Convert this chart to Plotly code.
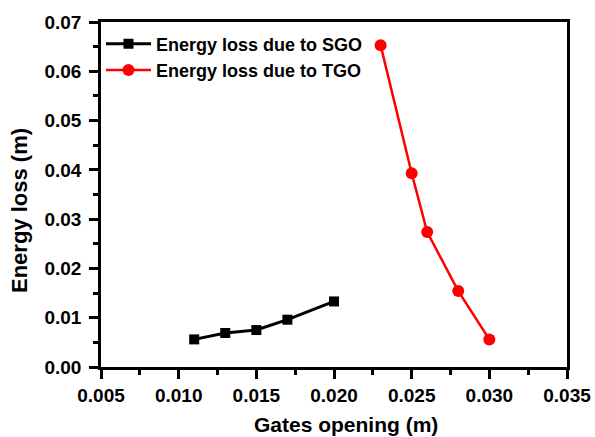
import plotly.graph_objects as go

gate_sgo = [0.011, 0.013, 0.015, 0.017, 0.020]
loss_sgo = [0.0056, 0.0069, 0.0075, 0.0096, 0.0133]
gate_tgo = [0.023, 0.025, 0.026, 0.028, 0.030]
loss_tgo = [0.0653, 0.0393, 0.0274, 0.0154, 0.0056]

x_title = "Gates opening (m)"
y_title = "Energy loss (m)"

font_family = "Liberation Sans, Arial, sans-serif"

fig = go.Figure()
fig.add_trace(go.Scatter(x=gate_sgo, y=loss_sgo, mode="lines+markers",
                         name="Energy loss due to SGO",
                         line=dict(color="black", width=3),
                         marker=dict(symbol="square", size=10, color="black")))
fig.add_trace(go.Scatter(x=gate_tgo, y=loss_tgo, mode="lines+markers",
                         name="Energy loss due to TGO",
                         line=dict(color="#ff0000", width=2.5),
                         marker=dict(symbol="circle", size=12, color="#ff0000")))

axis_common = dict(showline=True, linecolor="black", linewidth=2.5, mirror=True,
                   ticks="outside", ticklen=9, tickwidth=2.5, tickcolor="black",
                   showgrid=False, zeroline=False, automargin=False,
                   tickfont=dict(family=font_family, size=19, color="black", weight="bold"))

fig.update_xaxes(range=[0.005, 0.035], dtick=0.005, tickformat=".3f",
                 minor=dict(ticks="outside", ticklen=5, tickwidth=2.5, tickcolor="black", dtick=0.0025),
                 ticklabelstandoff=0,
                 **axis_common)
fig.update_yaxes(range=[0.0, 0.07], dtick=0.01, tickformat=".2f",
                 minor=dict(ticks="outside", ticklen=5, tickwidth=2.5, tickcolor="black", dtick=0.005),
                 ticklabelstandoff=4,
                 **axis_common)

title_font = dict(family=font_family, size=21, color="black", weight="bold")
fig.add_annotation(text=x_title, xref="paper", yref="paper", x=0.525, y=-0.168,
                   xanchor="center", yanchor="middle", showarrow=False, font=title_font)
fig.add_annotation(text=y_title, xref="paper", yref="paper", x=-0.176, y=0.455,
                   xanchor="center", yanchor="middle", textangle=-90, showarrow=False,
                   font=dict(family=font_family, size=22, color="black", weight="bold"))

fig.update_layout(width=595, height=437,
                  margin=dict(l=101, r=28, t=22, b=70),
                  plot_bgcolor="white", paper_bgcolor="white",
                  legend=dict(x=0.0, y=0.99, xanchor="left", yanchor="top",
                              bgcolor="rgba(0,0,0,0)", tracegroupgap=0, itemwidth=45,
                              font=dict(family=font_family, size=18, color="black", weight="bold")),
                  showlegend=True)

fig.write_html("out.html")
